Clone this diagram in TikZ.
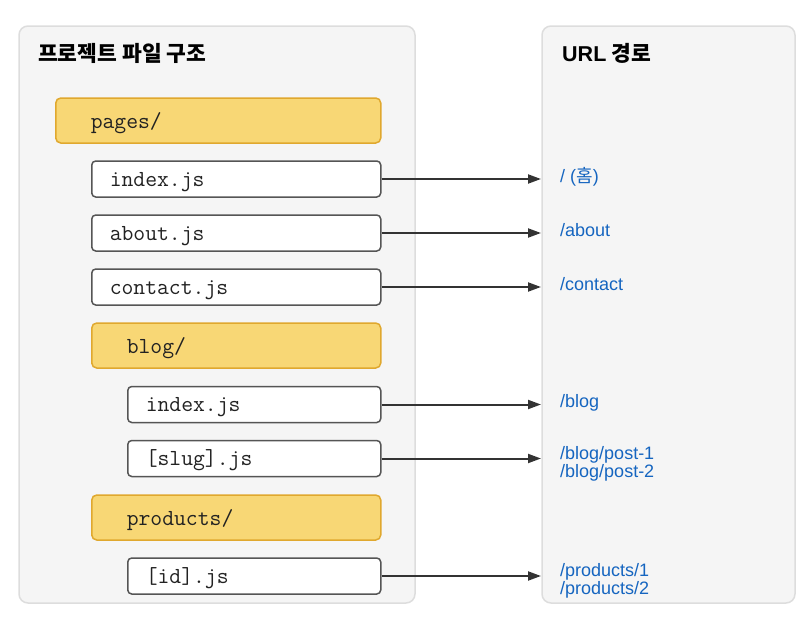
\documentclass[tikz,border=0pt]{standalone}
\usepackage{fontspec}
\setmainfont{Liberation Sans}
\newfontfamily\krfont{Noto Sans CJK KR}
\usetikzlibrary{arrows.meta}
\definecolor{panelfill}{HTML}{F5F5F5}
\definecolor{panelline}{HTML}{DDDDDD}
\definecolor{dirfill}{HTML}{F8D775}
\definecolor{dirline}{HTML}{E0A82E}
\definecolor{fileline}{HTML}{555555}
\definecolor{urlblue}{HTML}{1565C0}
\definecolor{arrowc}{HTML}{333333}
\definecolor{codec}{HTML}{222222}
\tikzset{
  panel/.style={draw=panelline, line width=1.5pt, fill=panelfill, rounded corners=9pt},
  titletext/.style={anchor=base west, inner sep=0pt, font=\fontsize{21.5}{24}\selectfont\bfseries},
  dirbox/.style={draw=dirline, line width=1.5pt, fill=dirfill, rounded corners=5pt,
    anchor=west, minimum height=45pt, inner xsep=35pt, align=left, text=codec,
    text height=19pt, text depth=4pt,
    font=\fontsize{23}{24}\selectfont\ttfamily},
  filebox/.style={draw=fileline, line width=1.5pt, fill=white, rounded corners=4pt,
    anchor=west, minimum height=36pt, inner xsep=18pt, align=left, text=codec,
    text height=18pt, text depth=4pt,
    font=\fontsize{23}{24}\selectfont\ttfamily},
  urltext/.style={anchor=base west, inner sep=0pt, align=left, text=urlblue,
    font=\fontsize{18}{18}\selectfont},
  link/.style={draw=arrowc, line width=2pt, -{Triangle[length=13pt,width=9pt]}}
}
\begin{document}
\begin{tikzpicture}[x=1pt,y=-1pt]
\useasboundingbox (0,0) rectangle (811,640);
% panels
\draw[panel] (19,26) rectangle (415,603);
\draw[panel] (542,26) rectangle (795,603);
\node[titletext] (t1) at (38,61) {\krfont\bfseries 프로젝트 파일 구조};
\node[titletext] (t2) at (562,61) {URL\krfont\bfseries{} 경로};
% directories
\node[dirbox, text width=325pt-70pt] (pages) at (55,120.5) {pages/};
\node[dirbox, text width=289pt-70pt] (blog) at (91,345.5) {blog/};
\node[dirbox, text width=289pt-70pt] (products) at (91,517.5) {products/};
% files
\node[filebox, text width=289pt-36pt] (f1) at (91,179) {index.js};
\node[filebox, text width=289pt-36pt] (f2) at (91,233) {about.js};
\node[filebox, text width=289pt-36pt] (f3) at (91,287) {contact.js};
\node[filebox, text width=253pt-36pt] (f4) at (127,404.5) {index.js};
\node[filebox, text width=253pt-36pt] (f5) at (127,458.5) {[slug].js};
\node[filebox, text width=253pt-36pt] (f6) at (127,576) {[id].js};
% arrow ends
\coordinate (e1) at (541,179);
\coordinate (e2) at (541,233);
\coordinate (e3) at (541,287);
\coordinate (e4) at (541,404.5);
\coordinate (e5) at (541,458.5);
\coordinate (e6) at (541,576);
\foreach \i in {1,...,6} { \draw[link] (f\i.east) -- (e\i); }
% urls
\node[urltext] (u1) at (560,182) {/ (\krfont 홈\normalfont)};
\node[urltext] (u2) at (560,236) {/about};
\node[urltext] (u3) at (560,290) {/contact};
\node[urltext] (u4) at (560,407.5) {/blog};
\node[urltext] (u5) at (560,477) {/blog/post-1\\/blog/post-2};
\node[urltext] (u6) at (560,594) {/products/1\\/products/2};
\end{tikzpicture}
\end{document}
